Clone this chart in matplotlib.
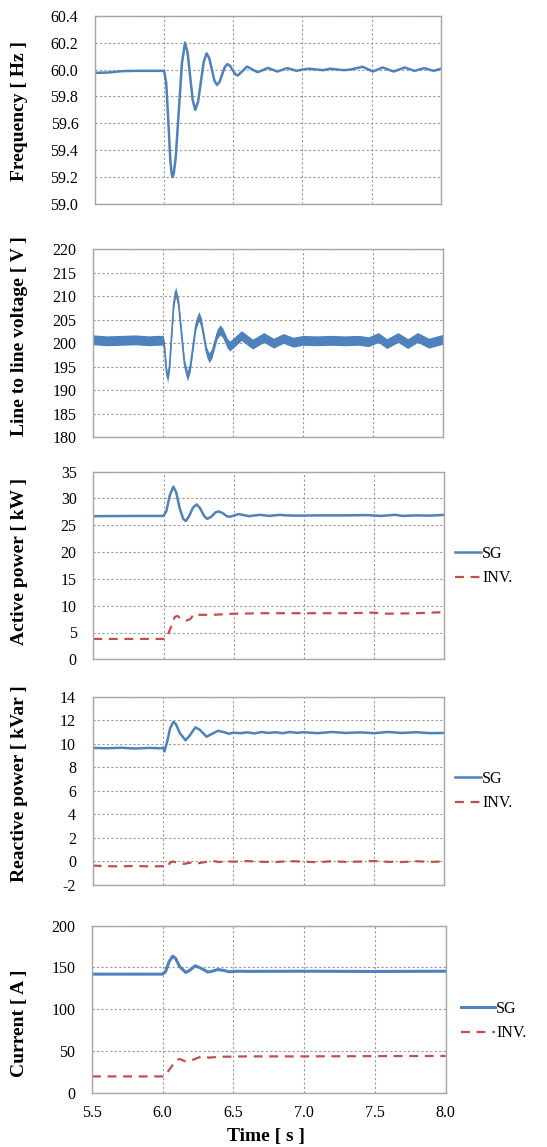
import numpy as np
import matplotlib
matplotlib.use('Agg')
import matplotlib.pyplot as plt

plt.rcParams['font.family'] = ['Liberation Serif', 'DejaVu Serif']

W, H = 547, 1147
blue = '#4F81BD'
red = '#C0504D'

# frequency [Hz]
t_freq = [5.5, 5.6, 5.7, 5.8, 5.9, 5.98, 6.0, 6.015, 6.03, 6.045, 6.055, 6.062, 6.07,
          6.084, 6.1065, 6.129, 6.151, 6.1695, 6.188, 6.2065, 6.225, 6.2455, 6.266,
          6.2865, 6.307, 6.326, 6.3445, 6.363, 6.382, 6.401, 6.4195, 6.438, 6.457,
          6.476, 6.4945, 6.513, 6.532, 6.566, 6.60, 6.638, 6.676, 6.713, 6.75, 6.785,
          6.82, 6.855, 6.89, 6.925, 6.96, 7.0, 7.05, 7.1, 7.15, 7.2, 7.25, 7.3, 7.35,
          7.435, 7.51, 7.58, 7.66, 7.74, 7.81, 7.88, 7.95, 8.0]
freq = [59.975, 59.978, 59.988, 59.99, 59.99, 59.99, 59.99, 59.9, 59.62, 59.32, 59.22, 59.2, 59.23,
        59.35, 59.70, 60.05, 60.2, 60.127, 59.95, 59.773, 59.70, 59.761, 59.91,
        60.059, 60.12, 60.086, 60.0025, 59.919, 59.885, 59.908, 59.9625, 60.017, 60.04,
        60.028, 59.9975, 59.967, 59.955, 59.988, 60.022, 60.0, 59.98, 59.995, 60.012, 59.998,
        59.985, 59.998, 60.01, 60.0, 59.99, 60.0, 60.006, 60.0, 59.995, 60.006, 60.0, 59.995, 60.0,
        60.02, 59.985, 60.015, 59.985, 60.015, 59.99, 60.01, 59.99, 60.005]

# line to line voltage [V]
t_volt = [5.5, 5.6, 5.7, 5.8, 5.9, 5.95, 6.0, 6.008, 6.016, 6.024, 6.032, 6.046, 6.0605,
          6.075, 6.089, 6.11, 6.131, 6.152, 6.173, 6.193, 6.2135, 6.234, 6.254, 6.2725,
          6.291, 6.3095, 6.328, 6.3475, 6.367, 6.3865, 6.406, 6.424, 6.442, 6.46, 6.478,
          6.519, 6.56, 6.60, 6.64, 6.68, 6.72, 6.755, 6.79, 6.825, 6.86, 6.895, 6.93,
          7.0, 7.1, 7.2, 7.3, 7.4, 7.47, 7.54, 7.60, 7.68, 7.75, 7.82, 7.90, 8.0]
volt = [200.7, 200.5, 200.6, 200.7, 200.5, 200.6, 200.6, 199.4, 196.6, 193.8, 192.6, 195.3, 201.8,
        208.3, 211.0, 208.4, 202.0, 195.6, 193.0, 194.85, 199.35, 203.85, 205.7, 204.4,
        201.3, 198.2, 196.9, 197.76, 199.85, 201.94, 202.8, 202.3, 201.1, 199.9, 199.4,
        200.5, 201.6, 200.7, 199.8, 200.5, 201.2, 200.6, 200.0, 200.5, 201.0, 200.6, 200.2,
        200.6, 200.5, 200.6, 200.5, 200.6, 200.3, 201.2, 199.9, 201.2, 199.9, 201.2, 200.0, 200.8]
volt_band = 1.05

# active power [kW]
t_p_sg = [5.5, 5.8, 6.0, 6.02, 6.045, 6.07, 6.09, 6.115, 6.14, 6.158, 6.18, 6.21, 6.236,
          6.26, 6.29, 6.312, 6.34, 6.37, 6.39, 6.42, 6.45, 6.47, 6.5, 6.535, 6.57, 6.61,
          6.65, 6.69, 6.72, 6.75, 6.79, 6.83, 6.87, 6.95, 7.1, 7.3, 7.45, 7.55, 7.65,
          7.7, 7.8, 7.9, 8.0]
p_sg = [26.7, 26.75, 26.75, 27.6, 30.6, 32.2, 31.2, 28.2, 26.2, 25.8, 26.6, 28.3, 28.9,
        28.2, 26.7, 26.2, 26.6, 27.4, 27.6, 27.3, 26.7, 26.6, 26.8, 27.1, 26.9, 26.7,
        26.85, 26.95, 26.85, 26.75, 26.85, 26.95, 26.85, 26.8, 26.85, 26.85, 26.9, 26.75, 26.95,
        26.75, 26.85, 26.8, 26.95]
t_p_inv = [5.5, 6.0, 6.02, 6.05, 6.08, 6.1, 6.13, 6.16, 6.19, 6.22, 6.26, 6.35, 6.5,
           6.7, 7.0, 7.3, 7.5, 7.6, 7.8, 8.0]
p_inv = [3.8, 3.8, 3.9, 5.8, 7.9, 8.1, 7.4, 7.2, 7.5, 8.5, 8.3, 8.3, 8.5,
         8.6, 8.6, 8.6, 8.7, 8.5, 8.6, 8.8]

# reactive power [kVar]
t_q_sg = [5.5, 5.6, 5.7, 5.8, 5.9, 5.98, 6.0, 6.01, 6.03, 6.05, 6.073, 6.09, 6.12, 6.16,
          6.19, 6.23, 6.26, 6.31, 6.35, 6.39, 6.43, 6.47, 6.5, 6.55, 6.6, 6.65, 6.7, 6.75,
          6.8, 6.85, 6.9, 6.95, 7.0, 7.1, 7.2, 7.3, 7.4, 7.5, 7.6, 7.7, 7.8, 7.9, 8.0]
q_sg = [9.65, 9.62, 9.66, 9.6, 9.65, 9.62, 9.65, 9.35, 10.2, 11.3, 11.85, 11.7, 10.9, 10.3,
        10.7, 11.4, 11.2, 10.6, 10.85, 11.1, 11.0, 10.85, 10.95, 10.9, 10.97, 10.88, 11.0, 10.92,
        10.98, 10.9, 11.0, 10.93, 10.98, 10.9, 11.0, 10.92, 10.97, 10.9, 11.0, 10.92, 10.98, 10.9, 10.92]
t_q_inv = [5.5, 5.6, 5.7, 5.8, 5.9, 6.0, 6.03, 6.05, 6.07, 6.1, 6.15, 6.2, 6.25, 6.3, 6.35,
           6.4, 6.45, 6.5, 6.6, 6.7, 6.8, 6.9, 7.0, 7.1, 7.2, 7.3, 7.4, 7.5, 7.6, 7.7,
           7.8, 7.9, 8.0]
q_inv = [-0.35, -0.4, -0.42, -0.38, -0.42, -0.4, -0.5, -0.1, 0.0, -0.1, -0.2, -0.1, -0.15, -0.05, 0.05,
         -0.05, 0.02, -0.02, 0.03, -0.03, -0.05, 0.03, -0.02, -0.06, 0.02, -0.04, -0.01, 0.04, -0.03, -0.05,
         0.02, -0.04, 0.0]

# current [A]
t_i_sg = [5.5, 5.8, 6.0, 6.02, 6.045, 6.07, 6.09, 6.12, 6.162, 6.19, 6.23, 6.27, 6.32,
          6.35, 6.39, 6.43, 6.47, 6.52, 6.6, 7.0, 7.5, 8.0]
i_sg = [142, 142, 142, 145, 157, 163.5, 161, 151, 144, 146.5, 152, 149, 144.5,
        145.5, 147.5, 146.5, 144.8, 145.5, 145.3, 145.5, 145.2, 145.5]
t_i_inv = [5.5, 6.0, 6.02, 6.06, 6.1, 6.12, 6.16, 6.2, 6.27, 6.33, 6.4, 6.6, 7.0, 7.5, 8.0]
i_inv = [19.5, 19.5, 21, 31, 39, 40.4, 37.5, 38.5, 43.2, 42, 43, 43.5, 43.5, 43.8, 44]

xticks = [5.5, 6.0, 6.5, 7.0, 7.5, 8.0]

fig = plt.figure(figsize=(W / 100, H / 100), dpi=100)


def px_axes(x0, y0, x1, y1):
    return fig.add_axes([x0 / W, 1 - y1 / H, (x1 - x0) / W, (y1 - y0) / H])


def style(ax, ylim, yticks, fmt, show_x=False):
    ax.set_xlim(5.5, 8.0)
    ax.set_ylim(*ylim)
    ax.set_xticks(xticks)
    ax.set_yticks(yticks)
    ax.set_yticklabels([fmt.format(v) for v in yticks])
    if show_x:
        ax.set_xticklabels(['%.1f' % v for v in xticks])
    else:
        ax.set_xticklabels([])
    ax.tick_params(length=0, labelsize=11.5)
    ax.tick_params(axis='y', pad=12)
    ax.tick_params(axis='x', pad=9)
    ax.grid(True, color='#9a9a9a', linestyle=(0, (2, 2)), linewidth=0.8)
    ax.set_axisbelow(True)
    for s in ax.spines.values():
        s.set_color('#a6a6a6')
        s.set_linewidth(1.0)


def ylabel(text, yc):
    fig.text(20 / W, 1 - yc / H, text, rotation=90, ha='center', va='center',
             fontsize=14, fontweight='bold')


def legend(ax, yc, x0=455, hl=1.6):
    ax.legend(['SG', 'INV.'], loc='center left', frameon=False,
              bbox_to_anchor=(x0 / W, 1 - yc / H), bbox_transform=fig.transFigure,
              fontsize=11.5, handlelength=hl, handletextpad=0.1, labelspacing=0.55,
              borderpad=0, borderaxespad=0)


# frequency
ax1 = px_axes(95, 15.7, 440.7, 204)
ax1.plot(t_freq, freq, color=blue, lw=1.8)
style(ax1, (59.0, 60.4), [59.0, 59.2, 59.4, 59.6, 59.8, 60.0, 60.2, 60.4], '{:.1f}')
ylabel('Frequency [ Hz ]', 111)

# voltage
ax2 = px_axes(93.3, 249, 442.7, 437.3)
v = np.array(volt)
ax2.fill_between(t_volt, v - volt_band, v + volt_band, color=blue, lw=0)
ax2.plot(t_volt, volt, color=blue, lw=1.2)
style(ax2, (180, 220), [180, 185, 190, 195, 200, 205, 210, 215, 220], '{:.0f}')
ylabel('Line to line voltage [ V ]', 336)

# active power
ax3 = px_axes(93.3, 471.7, 444.3, 659.3)
ax3.plot(t_p_sg, p_sg, color=blue, lw=1.8)
ax3.plot(t_p_inv, p_inv, color=red, lw=1.6, dashes=(4, 3))
style(ax3, (0, 35), [0, 5, 10, 15, 20, 25, 30, 35], '{:.0f}')
ylabel('Active power [ kW ]', 561)
legend(ax3, 566)

# reactive power
ax4 = px_axes(92.7, 696.7, 444.3, 885)
ax4.plot(t_q_sg, q_sg, color=blue, lw=1.8)
ax4.plot(t_q_inv, q_inv, color=red, lw=1.6, dashes=(4, 3))
style(ax4, (-2, 14), [-2, 0, 2, 4, 6, 8, 10, 12, 14], '{:.0f}')
ylabel('Reactive power [ kVar ]', 784)
legend(ax4, 791)

# current
ax5 = px_axes(92, 925.7, 445.7, 1092.7)
ax5.plot(t_i_sg, i_sg, color=blue, lw=2.2)
ax5.plot(t_i_inv, i_inv, color=red, lw=1.6, dashes=(4, 3))
style(ax5, (0, 200), [0, 50, 100, 150, 200], '{:.0f}', show_x=True)
ylabel('Current [ A ]', 1023)
legend(ax5, 1021, x0=461, hl=2.1)
fig.text(266 / W, 1 - 1137 / H, 'Time [ s ]', ha='center', va='center',
         fontsize=14, fontweight='bold')

fig.savefig('out.png', dpi=100)
